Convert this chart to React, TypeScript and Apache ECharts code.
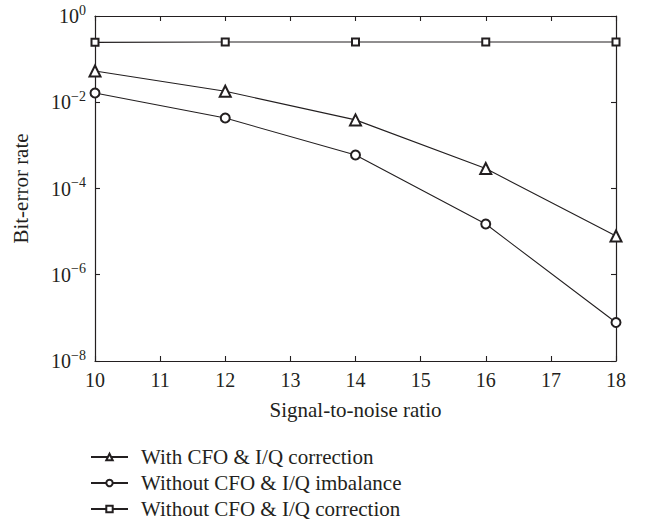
import React, { useEffect, useRef } from "react";
import * as echarts from "echarts";

const snr = [10, 12, 14, 16, 18];
const withCorrection = [0.053, 0.018, 0.0039, 2.9e-4, 7.9e-6];
const withoutImbalance = [0.0164, 0.0043, 6.0e-4, 1.5e-5, 7.8e-8];
const withoutCorrection = [0.245, 0.25, 0.25, 0.25, 0.25];
const seriesNames = [
  "With CFO & I/Q correction",
  "Without CFO & I/Q imbalance",
  "Without CFO & I/Q correction",
];

const FONT = "'Liberation Serif', 'DejaVu Serif', serif";
const INK = "#231f20";

export default function App() {
  const ref = useRef<HTMLDivElement>(null);
  useEffect(() => {
    if (!ref.current) return;
    const chart = echarts.init(ref.current, undefined, { renderer: "svg" });
    const pair = (ys: number[]) => snr.map((x, i) => [x, ys[i]]);
    const lineSeries = (name: string, ys: number[], symbol: string, size: number) => ({
      name,
      type: "line",
      data: pair(ys),
      symbol,
      symbolSize: size,
      lineStyle: { color: INK, width: 1.1 },
      itemStyle: { color: INK, borderColor: INK, borderWidth: 1.1 },
      z: 3,
    });
    const axisLine = { show: true, lineStyle: { color: INK, width: 1.2 } };
    const tick = { show: true, inside: true, length: 5, lineStyle: { color: INK, width: 1.1 } };
    chart.setOption({
      animation: false,
      backgroundColor: "#fff",
      textStyle: { fontFamily: FONT, color: INK },
      grid: { left: 95, right: 29, top: 16, bottom: 161, containLabel: false },
      legend: {
        orient: "vertical",
        left: 90,
        top: 446,
        padding: 0,
        itemGap: 4,
        itemWidth: 37,
        itemHeight: 8,
        height: 80,
        data: seriesNames,
        textStyle: {
          fontFamily: FONT,
          fontSize: 21,
          lineHeight: 22,
          color: INK,
          padding: [0, 0, 0, 8],
        },
      },
      xAxis: [
        {
          type: "value",
          min: 10,
          max: 18,
          interval: 1,
          axisLine,
          axisTick: tick,
          splitLine: { show: false },
          axisLabel: { fontFamily: FONT, fontSize: 20, color: INK, margin: 9 },
          name: "Signal-to-noise ratio",
          nameLocation: "middle",
          nameGap: 38,
          nameTextStyle: { fontFamily: FONT, fontSize: 21, color: INK },
        },
        {
          type: "value",
          position: "top",
          min: 10,
          max: 18,
          interval: 1,
          axisLine,
          axisTick: tick,
          splitLine: { show: false },
          axisLabel: { show: false },
        },
      ],
      yAxis: [
        {
          type: "log",
          logBase: 10,
          min: 1e-8,
          max: 1,
          interval: 2,
          axisLine,
          axisTick: tick,
          minorTick: { show: false },
          splitLine: { show: false },
          axisLabel: {
            margin: 9,
            formatter: (v: number) => {
              const e = Math.round(Math.log10(v));
              const s = e < 0 ? "\u2212" + Math.abs(e) : String(e);
              return `{b|10}{s|${s}}`;
            },
            rich: {
              b: { fontFamily: FONT, fontSize: 20, color: INK },
              s: { fontFamily: FONT, fontSize: 14, color: INK, padding: [0, 0, 12, 0] },
            },
          },
          name: "Bit-error rate",
          nameLocation: "middle",
          nameGap: 64,
          nameTextStyle: { fontFamily: FONT, fontSize: 21, color: INK },
        },
        {
          type: "log",
          logBase: 10,
          position: "right",
          min: 1e-8,
          max: 1,
          interval: 2,
          axisLine,
          axisTick: tick,
          splitLine: { show: false },
          axisLabel: { show: false },
        },
      ],
      series: [
        lineSeries(seriesNames[0], withCorrection, "emptyTriangle", 11),
        lineSeries(seriesNames[1], withoutImbalance, "emptyCircle", 9),
        lineSeries(seriesNames[2], withoutCorrection, "emptyRect", 7),
      ],
    });
    return () => chart.dispose();
  }, []);
  return (
    <div
      ref={ref}
      style={{ position: "fixed", left: 0, top: 0, width: 645, height: 522, background: "#fff" }}
    />
  );
}
